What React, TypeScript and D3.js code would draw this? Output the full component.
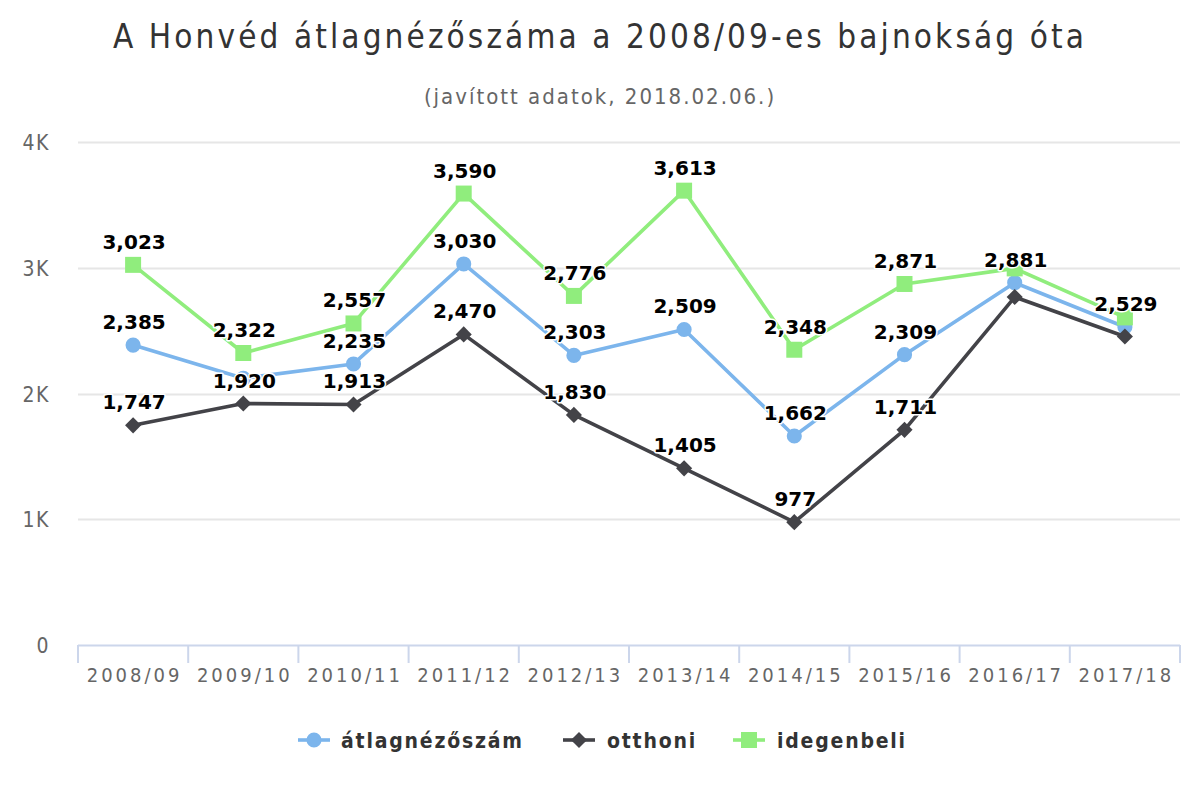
import { useEffect, useRef } from "react";
import * as d3 from "d3";

const seasons = ["2008/09", "2009/10", "2010/11", "2011/12", "2012/13", "2013/14", "2014/15", "2015/16", "2016/17", "2017/18"];
const avgValues = [2385, 2121, 2235, 3030, 2303, 2509, 1662, 2309, 2881, 2529];
const homeValues = [1747, 1920, 1913, 2470, 1830, 1405, 977, 1711, 2767, 2453];
const awayValues = [3023, 2322, 2557, 3590, 2776, 3613, 2348, 2871, 2995, 2605];
const yTicks = [0, 1000, 2000, 3000, 4000];
// labels that highcharts hid because they overlapped: [series, point]
const hiddenLabels = [[0, 1], [1, 8], [1, 9], [2, 8], [2, 9]];

const seriesNames = ["átlagnézőszám", "otthoni", "idegenbeli"];
const seriesColors = ["#7cb5ec", "#434348", "#90ed7d"];
const seriesSymbols = [d3.symbolCircle, d3.symbolSquare, d3.symbolSquare];
const symbolSizes = [180, 130, 256];
const symbolRotate = [0, 45, 0];

const W = 1200;
const H = 800;
const FONT = "'DejaVu Sans Condensed', 'DejaVu Sans', sans-serif";

const App = () => {
  const ref = useRef<SVGSVGElement | null>(null);

  useEffect(() => {
    document.body.style.margin = "0";
    if (!ref.current) return;
    const svg = d3.select(ref.current);
    svg.selectAll("*").remove();

    const m = { left: 78, right: 1180, top: 142, bottom: 645 };
    const x = d3.scaleBand<string>().domain(seasons).range([m.left, m.right]);
    const y = d3.scaleLinear().domain([0, 4000]).range([m.bottom, m.top]);

    svg.append("rect").attr("width", W).attr("height", H).attr("fill", "#fff");

    svg.append("text")
      .attr("x", W / 2).attr("y", 48)
      .attr("text-anchor", "middle")
      .attr("font-family", FONT).attr("font-size", 33).attr("fill", "#333")
      .attr("letter-spacing", 3.1)
      .text("A Honvéd átlagnézőszáma a 2008/09-es bajnokság óta");

    svg.append("text")
      .attr("x", W / 2).attr("y", 104)
      .attr("text-anchor", "middle")
      .attr("font-family", FONT).attr("font-size", 22).attr("fill", "#666")
      .attr("letter-spacing", 2)
      .text("(javított adatok, 2018.02.06.)");

    // grid
    const grid = svg.append("g");
    grid.selectAll("line").data(yTicks.filter(t => t > 0)).enter().append("line")
      .attr("x1", m.left).attr("x2", m.right)
      .attr("y1", d => Math.round(y(d)) + 0.5).attr("y2", d => Math.round(y(d)) + 0.5)
      .attr("stroke", "#e6e6e6").attr("stroke-width", 2);

    grid.selectAll("text").data(yTicks).enter().append("text")
      .attr("x", 50).attr("y", d => y(d) + 8)
      .attr("text-anchor", "end")
      .attr("font-family", FONT).attr("font-size", 21).attr("fill", "#666")
      .attr("letter-spacing", 1.5)
      .text(d => (d === 0 ? "0" : `${d / 1000}K`));

    // x axis
    const xa = svg.append("g");
    xa.append("line")
      .attr("x1", m.left).attr("x2", m.right)
      .attr("y1", m.bottom + 0.5).attr("y2", m.bottom + 0.5)
      .attr("stroke", "#ccd6eb").attr("stroke-width", 2);
    const bounds = [...seasons.map(s => x(s)!), m.right];
    xa.selectAll("line.tick").data(bounds).enter().append("line")
      .attr("class", "tick")
      .attr("x1", d => d).attr("x2", d => d)
      .attr("y1", m.bottom).attr("y2", m.bottom + 18)
      .attr("stroke", "#ccd6eb").attr("stroke-width", 2);
    xa.selectAll("text").data(seasons).enter().append("text")
      .attr("x", d => x(d)! + x.bandwidth() / 2 + 1.5).attr("y", 682)
      .attr("text-anchor", "middle")
      .attr("font-family", FONT).attr("font-size", 20).attr("fill", "#666")
      .attr("letter-spacing", 3)
      .text(d => d);

    const allSeries = [avgValues, homeValues, awayValues];
    const cx = (i: number) => x(seasons[i])! + x.bandwidth() / 2;
    const line = d3.line<number>().x((_, i) => cx(i)).y(d => y(d));

    allSeries.forEach((vals, s) => {
      const g = svg.append("g");
      g.append("path")
        .attr("d", line(vals)!)
        .attr("fill", "none")
        .attr("stroke", seriesColors[s])
        .attr("stroke-width", 3.6)
        .attr("stroke-linejoin", "round");
      g.selectAll("path.m").data(vals).enter().append("path")
        .attr("class", "m")
        .attr("transform", (d, i) => `translate(${cx(i)},${y(d)}) rotate(${symbolRotate[s]})`)
        .attr("d", d3.symbol().type(seriesSymbols[s]).size(symbolSizes[s])()!)
        .attr("fill", seriesColors[s]);
    });

    const fmt = d3.format(",");
    const labels = allSeries.flatMap((vals, s) =>
      vals.map((v, i) => ({ s, i, v })).filter(p => !hiddenLabels.some(h => h[0] === p.s && h[1] === p.i))
    );
    svg.append("g").selectAll("text").data(labels).enter().append("text")
      .attr("x", d => cx(d.i) + 1).attr("y", d => y(d.v) - 16)
      .attr("text-anchor", "middle")
      .attr("font-family", "'DejaVu Sans', sans-serif").attr("font-weight", "bold")
      .attr("font-size", 20).attr("fill", "#000")
      .attr("stroke", "#fff").attr("stroke-width", 3).attr("stroke-linejoin", "round")
      .attr("paint-order", "stroke")
      .text(d => fmt(d.v));

    // legend
    const legendX = [298, 563, 733];
    const legendTextX = [341, 607, 777];
    const lg = svg.append("g");
    seriesNames.forEach((name, s) => {
      lg.append("line")
        .attr("x1", legendX[s]).attr("x2", legendX[s] + 32)
        .attr("y1", 740).attr("y2", 740)
        .attr("stroke", seriesColors[s]).attr("stroke-width", 3.6);
      lg.append("path")
        .attr("transform", `translate(${legendX[s] + 16},740) rotate(${symbolRotate[s]})`)
        .attr("d", d3.symbol().type(seriesSymbols[s]).size(symbolSizes[s])()!)
        .attr("fill", seriesColors[s]);
      lg.append("text")
        .attr("x", legendTextX[s]).attr("y", 748)
        .attr("font-family", FONT).attr("font-weight", "bold")
        .attr("font-size", 21).attr("fill", "#333")
        .attr("letter-spacing", 1.8)
        .text(name);
    });
  }, []);

  return <svg ref={ref} width={W} height={H} style={{ display: "block" }} />;
};

export default App;
